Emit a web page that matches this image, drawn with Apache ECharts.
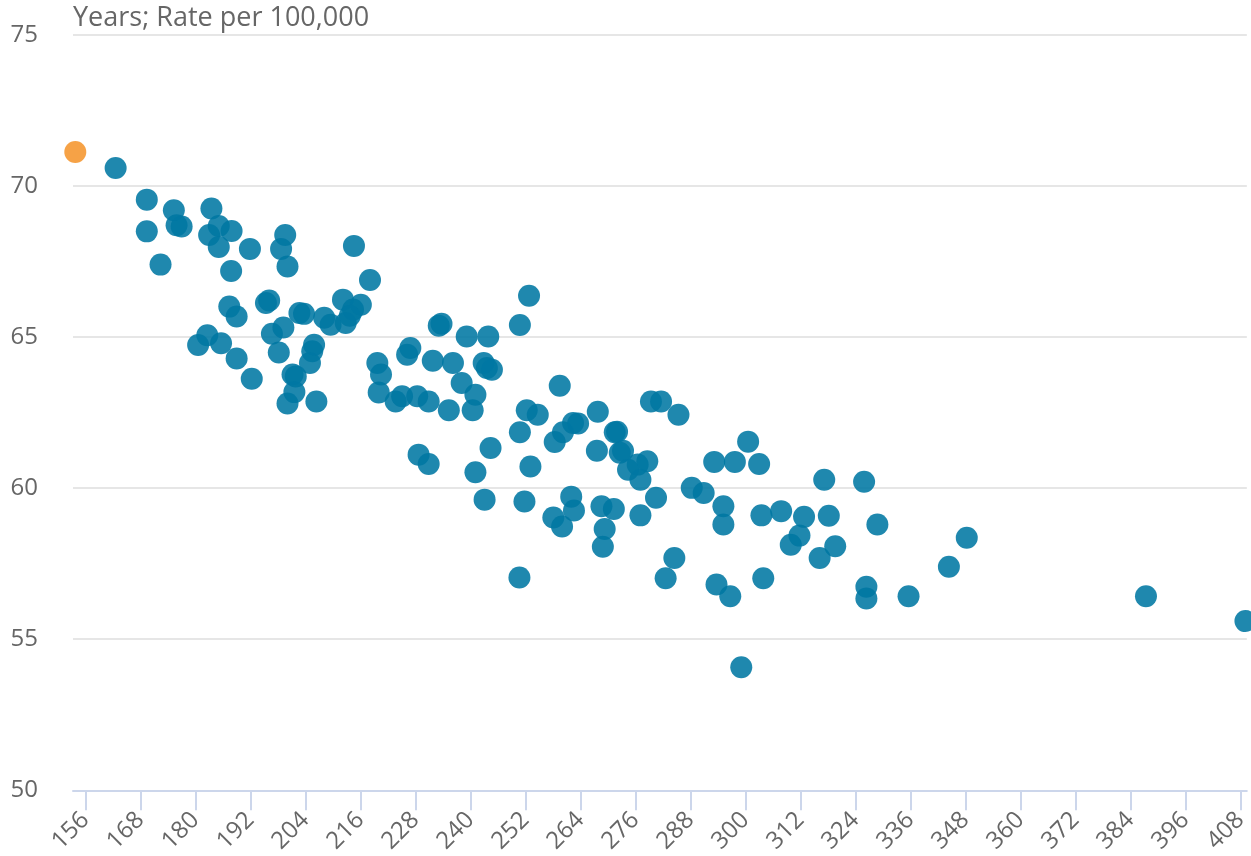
<!DOCTYPE html>
<html lang="en">
<head>
    <meta charset="UTF-8">
    <title>Years vs rate per 100,000</title>
    <style>
        * { margin: 0; padding: 0; box-sizing: border-box; }
        body { background: #fff; }
        #chart { width: 1251px; height: 856px; }
    </style>
</head>
<body>
    <div id="chart"></div>

    <script src="https://cdn.jsdelivr.net/npm/echarts@6/dist/echarts.min.js"></script>
    <script>
        // rate per 100,000 (x) and years (y)
        const rate = [
            162.6, 169.4, 169.4, 172.4, 175.3, 175.9, 177.0, 180.6, 182.6, 183.5,
            183.0, 185.1, 185.1, 185.6, 187.9, 187.8, 187.4, 189.0, 189.0, 191.9,
            192.3, 195.4, 196.1, 196.7, 199.2, 198.2, 199.6, 198.7, 200.1, 202.7,
            203.7, 200.1, 201.6, 201.2, 201.9, 205.0, 205.5, 205.9, 206.4, 208.1,
            209.5, 212.2, 212.8, 214.4, 216.1, 213.7, 214.6, 218.1, 219.7, 220.5,
            220.0, 223.7, 225.1, 226.9, 226.2, 228.4, 230.9, 228.7, 230.9, 231.8,
            233.7, 233.1, 235.3, 236.2, 238.1, 239.2, 240.5, 241.1, 241.1, 242.9,
            243.6, 244.7, 243.9, 244.4, 243.1, 250.8, 252.8, 250.8, 252.3, 254.7,
            253.1, 251.8, 250.7, 259.5, 258.4, 260.2, 262.4, 263.5, 258.1, 260.0,
            262.0, 262.6, 267.8, 267.6, 268.6, 271.3, 269.3, 268.9, 271.5, 272.0,
            272.6, 273.3, 274.4, 276.5, 278.6, 277.1, 279.4, 281.6, 285.4, 280.5,
            277.1, 284.5, 282.6, 288.3, 290.9, 293.2, 297.7, 300.6, 303.0, 295.2,
            295.2, 293.7, 296.7, 299.1, 303.9, 303.5, 307.8, 312.8, 311.8, 309.9,
            318.2, 319.6, 316.2, 317.2, 325.9, 328.8, 326.4, 326.4, 335.6, 344.4,
            348.3, 387.4, 409.1
        ];
        const years = [
            70.6, 69.55, 68.5, 67.4, 69.2, 68.7, 68.66, 64.74, 65.06, 69.26,
            68.38, 68.68, 67.98, 64.8, 68.51, 67.19, 66.01, 65.68, 64.29, 67.92,
            63.62, 66.13, 66.21, 65.11, 65.32, 64.49, 68.38, 67.92, 67.34, 65.8,
            65.77, 62.8, 63.18, 63.76, 63.7, 64.14, 64.53, 64.75, 62.87, 65.64,
            65.41, 66.24, 65.47, 65.91, 66.07, 65.71, 68.02, 66.89, 64.14, 63.76,
            63.17, 62.87, 63.04, 64.64, 64.42, 63.04, 62.87, 61.11, 60.8, 64.22,
            65.44, 65.38, 62.58, 64.14, 63.48, 65.02, 62.58, 63.09, 60.53, 64.14,
            63.98, 63.92, 65.02, 61.33, 59.62, 65.4, 66.37, 61.85, 62.58, 62.43,
            60.72, 59.56, 57.04, 63.39, 61.53, 61.85, 62.16, 62.14, 59.03, 58.73,
            59.72, 59.26, 62.53, 61.24, 59.4, 59.31, 58.65, 58.06, 61.85, 61.87,
            61.17, 61.24, 60.61, 60.78, 60.89, 60.28, 62.87, 62.87, 62.43, 59.68,
            59.1, 57.69, 57.02, 60.01, 59.84, 60.87, 60.87, 61.54, 60.8, 59.4,
            58.8, 56.81, 56.42, 54.07, 57.02, 59.1, 59.24, 59.05, 58.43, 58.13,
            59.09, 58.08, 57.69, 60.28, 60.21, 58.8, 56.74, 56.35, 56.42, 57.4,
            58.36, 56.42, 55.6
        ];

        // the highlighted (orange) point
        const highlightRate = [153.8];
        const highlightYears = [71.13];

        const xTicks = [156, 168, 180, 192, 204, 216, 228, 240, 252, 264, 276, 288,
                        300, 312, 324, 336, 348, 360, 372, 384, 396, 408];

        const chart = echarts.init(document.getElementById('chart'));
        const labelFont = { color: '#666666', fontSize: 24, fontFamily: 'Open Sans' };

        chart.setOption({
            animation: false,
            title: {
                text: 'Years; Rate per 100,000',
                left: 73,
                top: 5,
                padding: 0,
                textStyle: { color: '#666666', fontSize: 27, fontWeight: 'normal', fontFamily: 'Open Sans' }
            },
            grid: { left: 73, right: 0, top: 35, bottom: 65 },
            xAxis: {
                type: 'value',
                min: 153.3,
                max: 409.4,
                splitLine: { show: false },
                axisLine: { lineStyle: { color: '#ccd6eb', width: 2 } },
                axisTick: { show: true, length: 20, customValues: xTicks, lineStyle: { color: '#ccd6eb', width: 2 } },
                axisLabel: Object.assign({ rotate: 45, margin: 26, customValues: xTicks }, labelFont)
            },
            yAxis: {
                type: 'value',
                min: 50,
                max: 75,
                interval: 5,
                axisLine: { show: false },
                axisTick: { show: false },
                splitLine: { lineStyle: { color: '#e6e6e6', width: 2 } },
                axisLabel: Object.assign({ margin: 35 }, labelFont)
            },
            series: [
                {
                    type: 'scatter',
                    symbolSize: 22,
                    itemStyle: { color: '#0077a3', opacity: 0.88 },
                    data: rate.map((r, i) => [r, years[i]])
                },
                {
                    type: 'scatter',
                    symbolSize: 22,
                    itemStyle: { color: '#f59a36', opacity: 0.92 },
                    data: highlightRate.map((r, i) => [r, highlightYears[i]])
                }
            ]
        });
    </script>
</body>
</html>
